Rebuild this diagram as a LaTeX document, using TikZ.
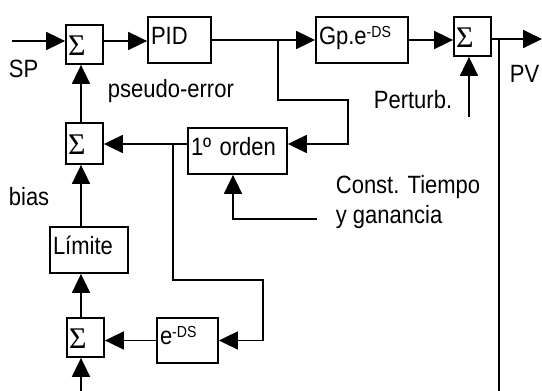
\documentclass[tikz,border=0pt]{standalone}
\usepackage{fontspec}
\setmainfont[FakeStretch=0.88]{Liberation Sans}
\newfontfamily\griega{Liberation Serif}
\usepackage{tikz}
\usetikzlibrary{positioning, arrows.meta, calc}

\newcommand{\rotulo}{\fontsize{25}{28}\selectfont}
\newcommand{\expo}[1]{\raisebox{7pt}{\fontsize{16}{16}\selectfont #1}}

\begin{document}
\begin{tikzpicture}[
    x=1pt, y=-1pt,
    line width=1.8pt,
    bloque/.style={draw, align=left, inner xsep=3pt, inner ysep=0pt, minimum height=46pt,
                   text height=18pt, text depth=10pt, font=\rotulo},
    suma/.style={draw, align=left, text width=33pt, inner xsep=2pt, inner ysep=0pt,
                 minimum height=39pt, text height=21pt, text depth=0pt,
                 font={\griega\fontsize{30}{30}\selectfont}},
    texto/.style={inner sep=0pt, font=\rotulo},
    flecha/.style={-{Triangle[length=19pt,width=18pt]}}
]
\useasboundingbox (0,0) rectangle (542,391);

% sumadores
\node[suma] (s1) at (84.5,44.5) {Σ};
\node[suma, minimum height=41pt] (s2) at (84.5,143.5) {Σ};
\node[suma] (s3) at (472.5,36.5) {Σ};
\node[suma] (s4) at (85.5,337.5) {Σ};

% bloques
\node[bloque, text width=57pt] (pid) at (179.5,40) {PID};
\node[bloque, text width=86pt] (gp) at (362,40) {Gp.e\expo{-DS}};
\node[bloque, text width=93pt] (orden) at (237.5,151) {1º orden};
\node[bloque, text width=72pt] (limite) at (89,250) {Límite};
\node[bloque, text width=55pt, minimum height=45pt] (retardo) at (187.5,340.5) {e\expo{-DS}};

% puntos de paso
\coordinate (eje) at (81,0);
\coordinate (entrada) at (12,41);
\coordinate (nA) at (278,40);
\coordinate (rA) at (348,100);
\coordinate (nB) at (173,144);
\coordinate (rB) at (263,280);
\coordinate (pert) at (469,117);
\coordinate (salida) at (542,39);
\coordinate (pv) at (499,39);
\coordinate (finPV) at (499,391);
\coordinate (cA) at (317,219);
\coordinate (fondo) at (81,391);

% lazo directo
\draw[flecha] (entrada) -- (entrada -| s1.west);
\draw[flecha] (s1.east |- entrada) -- (pid.west |- entrada);
\draw[flecha] (pid.east) -- (gp.west);
\draw[flecha] (gp.east) -- (gp.east -| s3.west);
\draw[flecha] (s3.east |- salida) -- (salida);
\draw (pv) -- (finPV);
\draw[flecha] (pert) -- (pert |- s3.south);

% modelo interno
\draw[flecha] (nA) |- (rA) |- (orden.east |- nB);
\draw[flecha] (orden.west |- nB) -- (s2.east |- nB);
\draw[flecha] (nB) |- (rB) |- (retardo.east);
\draw[flecha] (retardo.west) -- (retardo.west -| s4.east);
\draw[flecha] (cA) -| ([xshift=-4.5pt]orden.south);

% cadena vertical
\draw[flecha] (s2.north -| eje) -- (s1.south -| eje);
\draw[flecha] (limite.north -| eje) -- (s2.south -| eje);
\draw[flecha] (s4.north -| eje) -- (limite.south -| eje);
\draw[flecha] (fondo) -- (s4.south -| eje);

% rotulos
\node[texto, anchor=base west] (sp) at (8,77) {SP};
\node[texto, anchor=base west] (pseudo) at (107,97) {pseudo-error};
\node[texto, anchor=base west] (bias) at (8,205) {bias};
\node[texto, anchor=base west] (perturb) at (373,108) {Perturb.};
\node[texto, anchor=base west] (pvtxt) at (509,82) {PV};
\node[texto, anchor=base west] (ct1) at (335,193) {Const. Tiempo};
\node[texto, anchor=base west] (ct2) at (335,223) {y ganancia};

\end{tikzpicture}
\end{document}
